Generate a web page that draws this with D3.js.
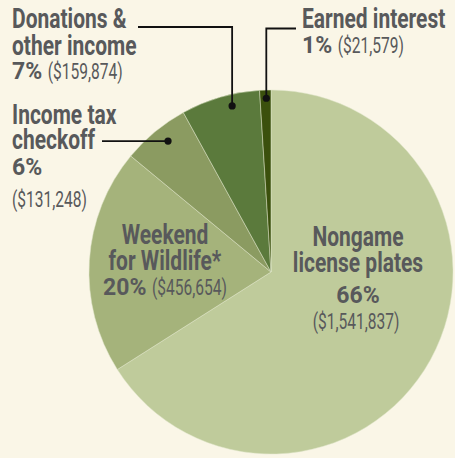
<!DOCTYPE html>
<html>
<head>
<meta charset="utf-8">
<script src="https://cdn.jsdelivr.net/npm/d3@7"></script>
<style>
  html, body { margin: 0; padding: 0; background: #faf6e7; }
  svg { display: block; }
  text { font-family: Roboto, "Liberation Sans", sans-serif; fill: #58595b; }
</style>
</head>
<body>
<svg id="chart" width="455" height="458"></svg>
<script>
// ---- data ----
const categories = ["Nongame license plates", "Weekend for Wildlife*", "Income tax checkoff", "Donations & other income", "Earned interest"];
const percents = [66, 20, 6, 7, 1];
const amounts = [1541837, 456654, 131248, 159874, 21579];
const titleLines = [
  ["Nongame", "license plates"],
  ["Weekend", "for Wildlife*"],
  ["Income tax", "checkoff"],
  ["Donations &", "other income"],
  ["Earned interest"]
];
const colors = ["#bfcb9b", "#a5b37b", "#8b9b61", "#5b7a3c", "#3b500d"];

// ---- layout ----
const W = 455, H = 458;
const cx = 271, cy = 272, R = 182;
const SY = 1.08;
const SX_TITLE = 0.84, SX_AMT = 0.74;
const TITLE = 25, VALUE = 21, PCT = 23, GAP = 5.5;

const svg = d3.select("#chart");
svg.append("rect").attr("width", W).attr("height", H).attr("fill", "#faf6e7");

const pie = d3.pie().sort(null).value(d => d)(percents);
const arc = d3.arc().innerRadius(0).outerRadius(R);
const g = svg.append("g").attr("transform", `translate(${cx},${cy})`);
g.selectAll("path").data(pie).join("path")
  .attr("d", arc)
  .attr("fill", (d, i) => colors[i])
  .attr("stroke", "#dfe5c8")
  .attr("stroke-width", 0.5);

const fmt = d3.format("$,");

function title(x, y, anchor, str) {
  svg.append("text")
    .attr("transform", `translate(${x},${y}) scale(${SX_TITLE},${SY})`)
    .attr("text-anchor", anchor)
    .style("font-size", TITLE + "px").style("font-weight", 700)
    .text(str);
}
// value line: bold percent and/or regular amount, left-aligned or centred on x
function value(x, y, anchor, pct, amt) {
  const parts = [];
  if (pct != null) parts.push({s: pct + "%", w: 700, size: PCT, sx: 1, sy: 1});
  if (amt != null) parts.push({s: "(" + fmt(amt) + ")", w: 400, size: VALUE, sx: SX_AMT, sy: SY});
  const nodes = parts.map(p => {
    const t = svg.append("text")
      .style("font-size", p.size + "px").style("font-weight", p.w).text(p.s);
    return {t, len: t.node().getComputedTextLength() * p.sx, sx: p.sx, sy: p.sy};
  });
  const total = d3.sum(nodes, n => n.len) + GAP * (nodes.length - 1);
  let cur = anchor === "middle" ? x - total / 2 : x;
  nodes.forEach(n => {
    n.t.attr("transform", `translate(${cur},${y}) scale(${n.sx},${n.sy})`);
    cur += n.len + GAP;
  });
}

// leader lines and dots, anchored to points inside the slices
function slicePoint(i, rFrac, angleFrac) {
  const d = pie[i];
  const a = d.startAngle + (d.endAngle - d.startAngle) * angleFrac;
  return [cx + Math.sin(a) * R * rFrac, cy - Math.cos(a) * R * rFrac];
}
function leader(pts) {
  svg.append("path")
    .attr("d", d3.line()(pts))
    .attr("fill", "none").attr("stroke", "#111").attr("stroke-width", 1.8);
  const end = pts[pts.length - 1];
  svg.append("circle").attr("cx", end[0]).attr("cy", end[1]).attr("r", 3.6).attr("fill", "#111");
}

// Donations
const pDon = slicePoint(3, 0.937, 0.62);
leader([[138, 27], [pDon[0], 27], pDon]);
// Earned interest
const pEarn = slicePoint(4, 0.955, 0.57);
leader([[296, 28.5], [pEarn[0], 28.5], pEarn]);
// Income tax
const pInc = slicePoint(2, 0.915, 0.565);
leader([[102, pInc[1]], pInc]);

// Donations label
title(12, 28, "start", titleLines[3][0]);
title(12, 55, "start", titleLines[3][1]);
value(12, 79, "start", percents[3], amounts[3]);

// Earned interest label
title(302, 28, "start", titleLines[4][0]);
value(302, 53, "start", percents[4], amounts[4]);

// Income tax label
title(12, 124, "start", titleLines[2][0]);
title(12, 149, "start", titleLines[2][1]);
value(12, 175, "start", percents[2], null);
value(12, 207, "start", null, amounts[2]);

// Weekend for Wildlife label
title(165, 244, "middle", titleLines[1][0]);
title(165, 270, "middle", titleLines[1][1]);
value(165, 295, "middle", percents[1], amounts[1]);

// Nongame label
title(358, 246, "middle", titleLines[0][0]);
title(358, 272, "middle", titleLines[0][1]);
value(358, 303, "middle", percents[0], null);
value(356, 329, "middle", null, amounts[0]);
</script>
</body>
</html>
